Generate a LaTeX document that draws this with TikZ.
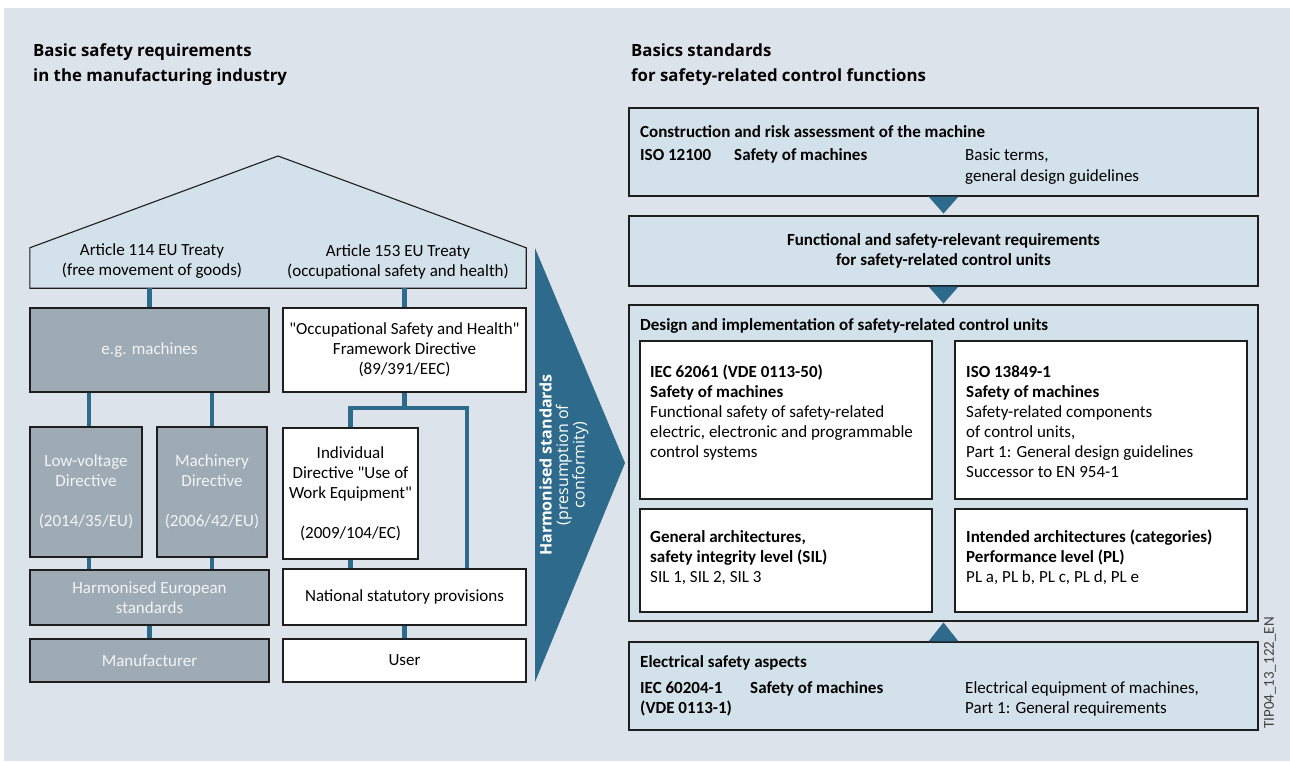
\documentclass[tikz,border=0pt]{standalone}
\usepackage{fontspec}
\setmainfont{Carlito}[Ligatures=TeXOff]
\newfontfamily\tfont{Open Sans}
\usetikzlibrary{calc}
\definecolor{bgc}{HTML}{DDE3EA}
\definecolor{lb}{HTML}{D3E1EA}
\definecolor{gb}{HTML}{9EAAB4}
\definecolor{gt}{HTML}{F2F5F7}
\definecolor{sb}{HTML}{2D6A8C}
\definecolor{ln}{HTML}{1E1E1E}
\newcommand\body{\fontsize{17}{20}\selectfont}
\newcommand\ttl{\tfont\bfseries\fontsize{16.8}{24}\selectfont}
\newcommand\tsm{\tfont\fontsize{16}{16.5}\selectfont}
\tikzset{
 bx/.style={draw=ln, line width=1.1pt, inner sep=0pt, align=center, font=\body},
 graybx/.style={bx, fill=gb, text=gt},
 whitebx/.style={bx, fill=white},
 bluebx/.style={bx, fill=lb},
 conn/.style={draw=sb, line width=4.5pt},
 txt/.style={anchor=base west, inner sep=0pt, font=\body},
 btxt/.style={txt, font=\body\bfseries},
 ttxt/.style={anchor=base west, inner sep=0pt, font=\ttl},
}
\newcommand\rbox[7]{\node[#2, minimum width={#5-#3}, minimum height={#6-#4}] (#1) at ({(#3+#5)/2},{(#4+#6)/2}) {#7};}
\begin{document}
\begin{tikzpicture}[x=1pt,y=-1pt]
\useasboundingbox (0,0) rectangle (1290,761);
\fill[bgc] (4,8) rectangle (1290,761);
% titles
\node[ttxt] (tl1) at (33,56) {Basic safety requirements};
\node[ttxt] (tl2) at (33,81) {in the manufacturing industry};
\node[ttxt] (tr1) at (631,56) {Basics standards};
\node[ttxt] (tr2) at (631,81) {for safety-related control functions};
% house
\node[minimum width=496, minimum height=40, inner sep=0pt] (house) at (278,268) {};
\coordinate (apex) at (278,156);
\draw[ln, line width=1.1pt, fill=lb] (house.south west) -- (house.north west) -- (apex) -- (house.north east) -- (house.south east) -- cycle;
\node[font=\body, align=center] (a114) at (152,261.5) {Article 114 EU Treaty\\(free movement of goods)};
\node[font=\body, align=center] (a153) at (398,261.5) {Article 153 EU Treaty\\(occupational safety and health)};
% left boxes
\rbox{egm}{graybx}{30}{308}{269}{392}{e.g. machines}
\rbox{occ}{whitebx}{283}{308}{526}{392}{"Occupational Safety and Health"\\Framework Directive\\(89/391/EEC)}
\rbox{lvd}{graybx}{30}{427}{142}{557}{Low-voltage\\Directive\\[20pt](2014/35/EU)}
\rbox{md}{graybx}{157}{427}{267}{557}{Machinery\\Directive\\[20pt](2006/42/EU)}
\rbox{ind}{whitebx}{283}{428}{418}{559}{Individual\\Directive "Use of\\Work Equipment"\\[20pt](2009/104/EC)}
\rbox{hes}{graybx}{30}{570}{269}{625}{Harmonised European\\standards}
\rbox{nat}{whitebx}{283}{569}{526}{625}{National statutory provisions}
\rbox{man}{graybx}{30}{639}{269}{682}{Manufacturer}
\rbox{usr}{whitebx}{283}{639}{526}{682}{User}
% connectors
\draw[conn] (egm.north) -- (egm.north |- house.south);
\draw[conn] (occ.north) -- (occ.north |- house.south);
\draw[conn] ([xshift=3pt]lvd.north) -- ([xshift=3pt]lvd.north |- egm.south);
\draw[conn] (md.north) -- (md.north |- egm.south);
\draw[conn] ([xshift=3pt]lvd.south) -- ([xshift=3pt]lvd.south |- hes.north);
\draw[conn] (md.south) -- (md.south |- hes.north);
\draw[conn] (hes.south) -- (man.north);
\coordinate (br) at (467,408);
\draw[conn] (occ.south) -- (occ.south |- br);
\draw[conn] (ind.north) |- (br) -- (br |- nat.north);
\draw[conn] (ind.south) -- (ind.south |- nat.north);
\draw[conn] (nat.south) -- (usr.north);
% big arrow
\fill[sb] (535,248) -- (625,463) -- (535,682) -- cycle;
\node[rotate=90, text=white, font=\tsm, align=center] (hs) at (564,465) {{\bfseries Harmonised standards}\\(presumption of\\conformity)};
% right boxes
\rbox{b1}{bluebx}{629}{108}{1258}{196}{}
\rbox{b2}{bluebx, font=\body\bfseries}{629}{216}{1258}{286}{Functional and safety-relevant requirements\\for safety-related control units}
\rbox{b3}{bluebx}{629}{305}{1258}{621}{}
\rbox{i1}{whitebx}{640}{341}{932}{499}{}
\rbox{i2}{whitebx}{955}{341}{1247}{499}{}
\rbox{i3}{whitebx}{640}{509}{932}{612}{}
\rbox{i4}{whitebx}{955}{509}{1247}{612}{}
\rbox{b4}{bluebx}{629}{642}{1258}{730}{}
\fill[sb] ($(b1.south)+(-15,0)$) -- ($(b1.south)+(15,0)$) -- ($(b1.south)+(0,17)$) -- cycle;
\fill[sb] ($(b2.south)+(-15,0)$) -- ($(b2.south)+(15,0)$) -- ($(b2.south)+(0,17)$) -- cycle;
\fill[sb] ($(b4.north)+(-15,0)$) -- ($(b4.north)+(15,0)$) -- ($(b4.north)+(0,-19)$) -- cycle;
% texts box 1
\node[btxt] (r1) at (640,137) {Construction and risk assessment of the machine};
\node[btxt] (r2) at (640,160) {ISO 12100};
\node[btxt] (r3) at (734,160) {Safety of machines};
\node[txt] (r4) at (965,160) {Basic terms,};
\node[txt] (r5) at (965,181) {general design guidelines};
% box 3
\node[btxt] (r6) at (640,330) {Design and implementation of safety-related control units};
\node[btxt] (r7) at (650,377) {IEC 62061 (VDE 0113-50)};
\node[btxt] (r8) at (650,397) {Safety of machines};
\node[txt] (r9) at (650,417) {Functional safety of safety-related};
\node[txt] (r10) at (650,437) {electric, electronic and programmable};
\node[txt] (r11) at (650,457) {control systems};
\node[btxt] (r12) at (966,377) {ISO 13849-1};
\node[btxt] (r13) at (966,397) {Safety of machines};
\node[txt] (r14) at (966,417) {Safety-related components};
\node[txt] (r15) at (966,437) {of control units,};
\node[txt] (r16) at (966,457) {Part 1: General design guidelines};
\node[txt] (r17) at (966,477) {Successor to EN 954-1};
\node[btxt] (r18) at (650,542) {General architectures,};
\node[btxt] (r19) at (650,562) {safety integrity level (SIL)};
\node[txt] (r20) at (650,582) {SIL 1, SIL 2, SIL 3};
\node[btxt] (r21) at (966,542) {Intended architectures (categories)};
\node[btxt] (r22) at (966,562) {Performance level (PL)};
\node[txt] (r23) at (966,582) {PL a, PL b, PL c, PL d, PL e};
% box 4
\node[btxt] (r24) at (640,667) {Electrical safety aspects};
\node[btxt] (r25) at (640,693) {IEC 60204-1};
\node[btxt] (r26) at (640,713) {(VDE 0113-1)};
\node[btxt] (r27) at (750,693) {Safety of machines};
\node[txt] (r28) at (965,693) {Electrical equipment of machines,};
\node[txt] (r29) at (965,713) {Part 1: General requirements};
% label
\node[rotate=90, font=\fontsize{15}{18}\selectfont, text=ln!85, inner sep=0pt] (tip) at (1270,673) {TIP04\_13\_122\_EN};
\end{tikzpicture}
\end{document}
